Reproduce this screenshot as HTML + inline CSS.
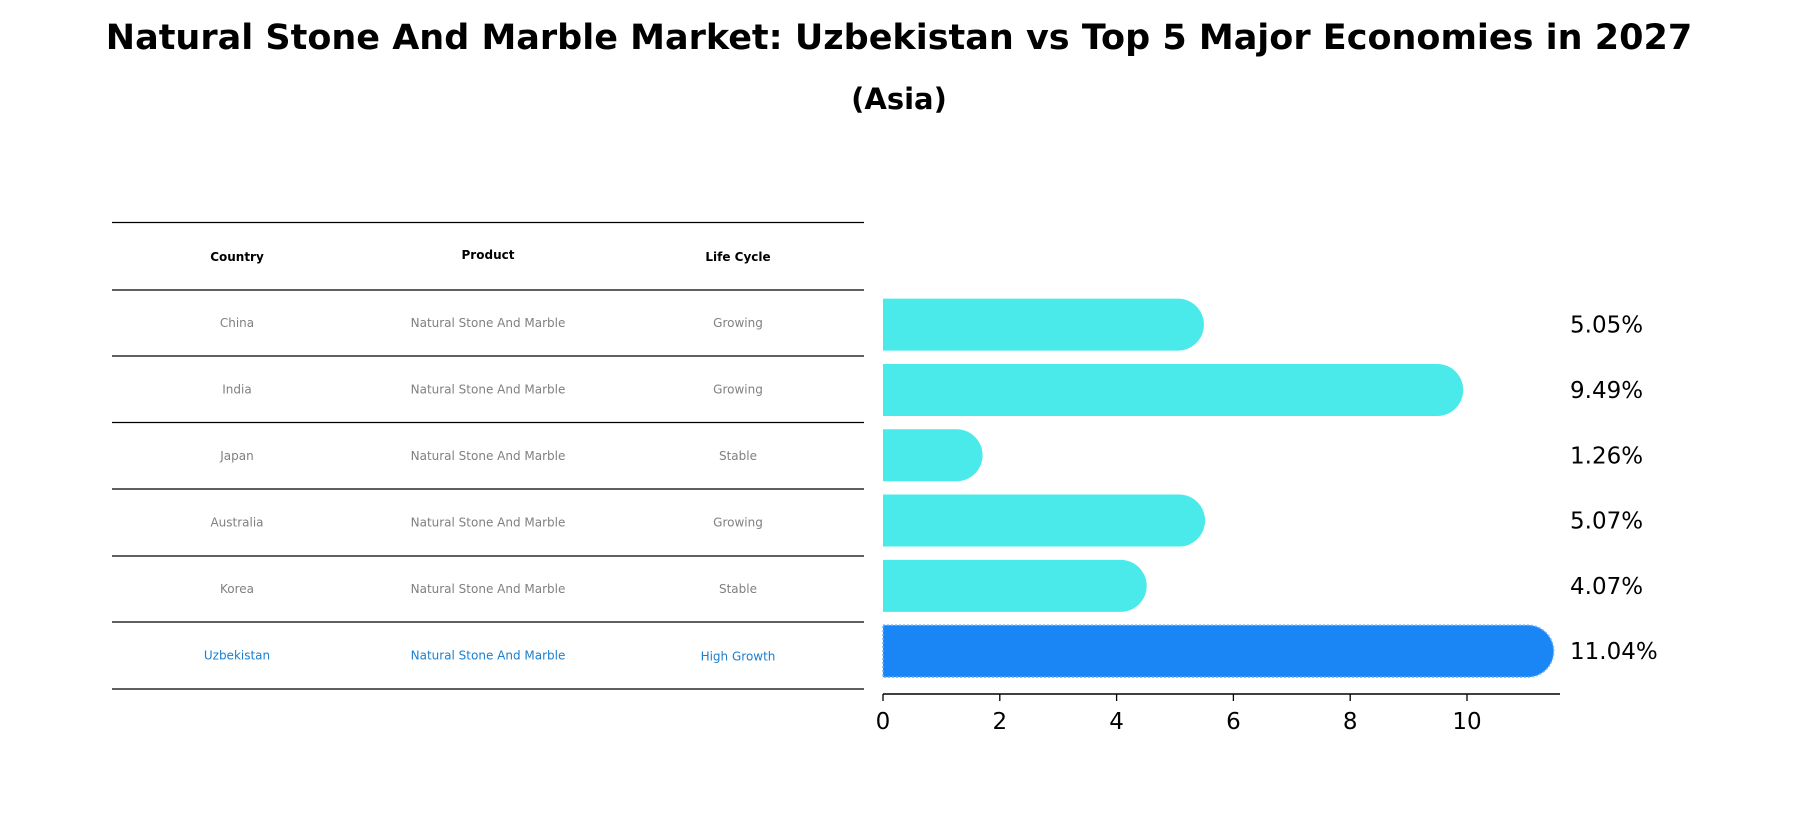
<!DOCTYPE html>
<html><head><meta charset="utf-8"><style>
body{margin:0;background:#fff;font-family:"DejaVu Sans","Liberation Sans",sans-serif;}
</style></head><body>
<svg width="1799" height="823" viewBox="0 0 1799 823" xmlns="http://www.w3.org/2000/svg">
<rect width="1799" height="823" fill="#fff"/>
<text x="899" y="49" text-anchor="middle" font-size="35" font-weight="bold" fill="#000">Natural Stone And Marble Market: Uzbekistan vs Top 5 Major Economies in 2027</text>
<text x="899" y="109" text-anchor="middle" font-size="29" font-weight="bold" fill="#000">(Asia)</text>
<g id="table"></g>
<g id="bars"></g>
</svg>
<script>
const countries=["China","India","Japan","Australia","Korea","Uzbekistan"];
const products=["Natural Stone And Marble","Natural Stone And Marble","Natural Stone And Marble","Natural Stone And Marble","Natural Stone And Marble","Natural Stone And Marble"];
const lifeCycles=["Growing","Growing","Stable","Growing","Stable","High Growth"];
const growth=[5.05,9.49,1.26,5.07,4.07,11.04];
const ticks=[0,2,4,6,8,10];
const NS="http://www.w3.org/2000/svg";
function mk(tag,attrs,parent){const e=document.createElementNS(NS,tag);for(const k in attrs)e.setAttribute(k,attrs[k]);parent.appendChild(e);return e;}
const tbl=document.getElementById('table');
const lineYs=[222.5,290,356,422.5,489,556,622,689];
lineYs.forEach((y,i)=>{const l=mk('line',{x1:112,x2:864,y1:y,y2:y,stroke:'#000','stroke-width':1.3},tbl);

});
const colX=[237,488,738];
["Country","Product","Life Cycle"].forEach((h,i)=>{const t=mk('text',{x:colX[i],y:i==1?259:261,'text-anchor':'middle','font-size':12,'font-weight':'bold',fill:'#000'},tbl);t.textContent=h;

});
countries.forEach((c,r)=>{const y=(lineYs[r+1]+lineYs[r+2])/2+4;const col=r==5?'#1a7fd0':'#808080';
[c,products[r],lifeCycles[r]].forEach((v,i)=>{const t=mk('text',{x:colX[i],y:y+(i==2&&r==5?1:0),'text-anchor':'middle','font-size':12,fill:col},tbl);t.textContent=v;

});});
const g=document.getElementById('bars');
const x0=883,ux=58.4;const X=v=>x0+v*ux;
const yTop=292,step=65.3,bh=52;const Y=i=>yTop+i*step+step/2;
growth.forEach((v,i)=>{const cy=Y(i);const r=bh/2;const xe=X(v);
const p=mk('path',{d:`M${x0},${cy-r} L${xe},${cy-r} A${r},${r} 0 0 1 ${xe},${cy+r} L${x0},${cy+r} Z`,fill:i==5?'#1a86f5':'#4aeaea',stroke:i==5?'#6fb4ff':'none','stroke-dasharray':i==5?'2,2':'none','stroke-width':1.5},g);


const t=mk('text',{x:1570,y:cy+8,'font-size':23,fill:'#000'},g);t.textContent=v.toFixed(2)+'%';

});
const ax=mk('line',{x1:x0,x2:1560,y1:694,y2:694,stroke:'#000','stroke-width':1.5},g);


ticks.forEach(v=>{const l=mk('line',{x1:X(v),x2:X(v),y1:694,y2:701,stroke:'#000','stroke-width':1.3},g);


const t=mk('text',{x:X(v),y:729,'text-anchor':'middle','font-size':23,fill:'#000'},g);t.textContent=v;

});
</script>
</body></html>
